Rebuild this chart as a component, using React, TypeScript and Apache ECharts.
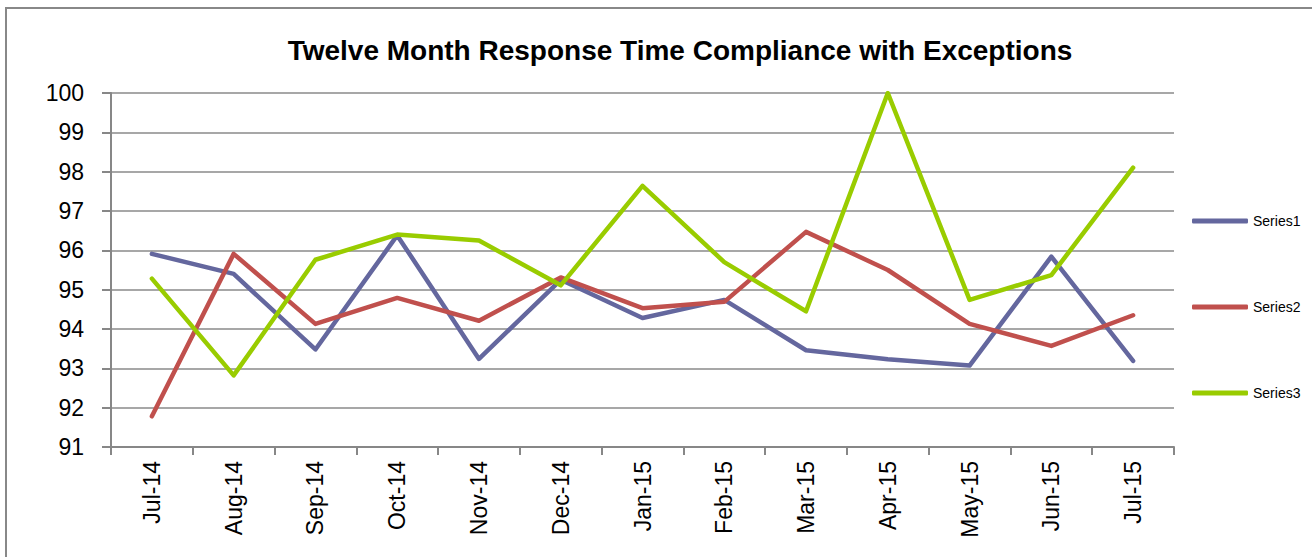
import React, { useEffect, useRef } from "react";
import * as echarts from "echarts";

const categories = ["Jul-14", "Aug-14", "Sep-14", "Oct-14", "Nov-14", "Dec-14", "Jan-15", "Feb-15", "Mar-15", "Apr-15", "May-15", "Jun-15", "Jul-15"];
const series1 = [95.91, 95.4, 93.48, 96.38, 93.24, 95.25, 94.28, 94.74, 93.46, 93.23, 93.07, 95.84, 93.19];
const series2 = [91.78, 95.91, 94.13, 94.79, 94.21, 95.31, 94.53, 94.69, 96.47, 95.5, 94.13, 93.57, 94.35];
const series3 = [95.28, 92.82, 95.76, 96.4, 96.25, 95.11, 97.64, 95.7, 94.45, 100, 94.74, 95.37, 98.1];
const seriesNames = ["Series1", "Series2", "Series3"];
const colors = ["#64679E", "#C0504D", "#99CC00"];
const titleText = "Twelve Month Response Time Compliance with Exceptions";

const FONT = "'Liberation Sans', Arial, sans-serif";

export default function App() {
  const ref = useRef<HTMLDivElement>(null);
  useEffect(() => {
    if (!ref.current) return;
    const chart = echarts.init(ref.current, undefined, { renderer: "svg" });
    const data = [series1, series2, series3];
    chart.setOption({
      animation: false,
      backgroundColor: "#ffffff",
      title: {
        text: titleText,
        left: 675,
        top: 31,
        textAlign: "center",
        textStyle: { fontFamily: FONT, fontWeight: "bold", fontSize: 28, color: "#000" },
      },
      graphic: [
        {
          type: "rect",
          shape: { x: 6, y: 8, width: 1400, height: 700 },
          style: { fill: "none", stroke: "#888888", lineWidth: 2 },
          silent: true,
        },
      ],
      legend: {
        orient: "vertical",
        left: 1187,
        top: 209,
        icon: "roundRect",
        itemWidth: 56,
        itemHeight: 5,
        itemGap: 72,
        textStyle: { fontFamily: FONT, fontSize: 14, color: "#000", lineHeight: 14 },
        data: seriesNames,
      },
      grid: { left: 111, right: 138, top: 93, bottom: 110, containLabel: false },
      xAxis: {
        type: "category",
        data: categories,
        boundaryGap: true,
        axisLine: { lineStyle: { color: "#878787", width: 2 } },
        axisTick: { show: true, length: 8, lineStyle: { color: "#878787", width: 2 } },
        axisLabel: { rotate: 90, margin: 14, fontFamily: FONT, fontSize: 23, color: "#000" },
        splitLine: { show: false },
      },
      yAxis: {
        type: "value",
        min: 91,
        max: 100,
        interval: 1,
        axisLine: { show: true, lineStyle: { color: "#878787", width: 2 } },
        axisTick: { show: true, length: 9, lineStyle: { color: "#878787", width: 2 } },
        axisLabel: { margin: 27, fontFamily: FONT, fontSize: 23, color: "#000" },
        splitLine: { show: true, lineStyle: { color: "#8a8a8a", width: 1.5 } },
      },
      series: seriesNames.map((name, i) => ({
        name,
        type: "line",
        data: data[i],
        symbol: "none",
        color: colors[i],
        itemStyle: { color: colors[i] },
        lineStyle: { color: colors[i], width: 4.5, cap: "round", join: "round" },
      })),
    });
    return () => chart.dispose();
  }, []);
  return <div ref={ref} style={{ position: "fixed", left: 0, top: 0, width: 1312, height: 557 }} />;
}
